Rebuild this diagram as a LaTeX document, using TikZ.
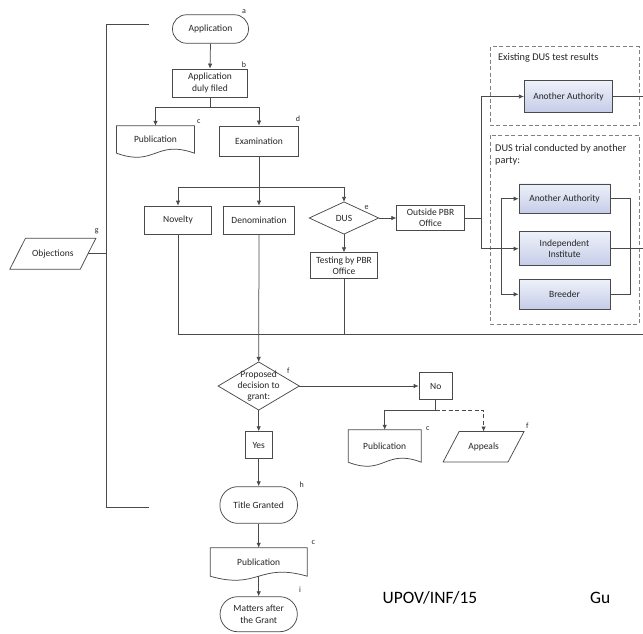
\documentclass[tikz,border=0pt]{standalone}
\usepackage{fontspec}
\setmainfont{Carlito}
\usetikzlibrary{arrows.meta,calc}
\definecolor{lc}{HTML}{4A4A4A}
\definecolor{tc}{HTML}{262626}
\definecolor{gc}{HTML}{808080}
\definecolor{btop}{HTML}{EEF1FA}
\definecolor{bbot}{HTML}{C5CCE7}
\newcommand{\nf}{\fontsize{9.5}{11.3}\selectfont}
\newcommand{\tf}{\fontsize{10.3}{11.7}\selectfont}
\newcommand{\docoutline}[1]{\draw[ln] (#1.south west) -- (#1.north west) -- (#1.north east) -- (#1.south east) .. controls ([yshift=14pt]#1.south) and ([yshift=-14pt]#1.south) .. (#1.south west);}
\newcommand{\paraoutline}[2]{\draw[ln] ([xshift=#2]#1.north west) -- ([xshift=#2]#1.north east) -- ([xshift=-#2]#1.south east) -- ([xshift=-#2]#1.south west) -- cycle;}
\newcommand{\diaoutline}[1]{\draw[ln] (#1.north) -- (#1.east) -- (#1.south) -- (#1.west) -- cycle;}
\tikzset{
  ln/.style={draw=lc, line width=0.75pt},
  arr/.style={ln, -{Latex[length=5pt,width=4.5pt]}},
  box/.style={draw=lc, line width=0.75pt, fill=white, align=center, inner sep=0pt, font=\nf, text=tc},
  termbox/.style={box, rounded corners=#1},
  bluebox/.style={box, top color=btop, bottom color=bbot, minimum width=91pt},
  plain/.style={align=center, inner sep=0pt, font=\nf, text=tc},
  lab/.style={inner sep=0pt, font=\fontsize{8}{9}\selectfont, text=tc},
  grp/.style={draw=gc, line width=0.75pt, dash pattern=on 4pt off 2.5pt},
  gtitle/.style={anchor=west, inner sep=0pt, font=\tf, text=tc, align=left},
}
\begin{document}
\begin{tikzpicture}[x=1pt, y=-1pt]
\useasboundingbox (0,0) rectangle (643,633);

% ---------- dashed groups ----------
\draw[grp] (490.7,46.7) rectangle (639,125.7);
\draw[grp] (490.7,135) rectangle (639,324);
\node[gtitle] (t1) at (498,57.7) {Existing DUS test results};
\node[gtitle] (t2) at (495,155) {DUS trial conducted by another\\party:};

% ---------- nodes ----------
\node[termbox=14pt, minimum width=76pt, minimum height=28.5pt] (apl) at (210.5,29) {Application};
\node[box, minimum width=75pt, minimum height=28pt] (b) at (210,83) {Application\\duly filed};
\node[plain, minimum width=77.6pt, minimum height=27pt] (pub1) at (155.5,139.5) {Publication};
\node[box, minimum width=78.3pt, minimum height=30.7pt] (exam) at (259,141.3) {Examination};
\node[box, minimum width=67.4pt, minimum height=28.3pt] (nov) at (178,220.2) {Novelty};
\node[box, minimum width=70.6pt, minimum height=28.3pt] (den) at (259,220.2) {Denomination};
\node[plain, minimum width=69pt, minimum height=31.7pt] (dus) at (344,218) {DUS};
\node[box, minimum width=67.6pt, minimum height=25.7pt] (out) at (430.5,218) {Outside PBR\\Office};
\node[box, minimum width=67.7pt, minimum height=25.6pt] (test) at (344,265.5) {Testing by PBR\\Office};
\node[bluebox, minimum width=88.4pt, minimum height=31.6pt] (aa1) at (568.5,96.5) {Another Authority};
\node[bluebox, minimum height=29.5pt] (aa2) at (564.5,198.7) {Another Authority};
\node[bluebox, minimum height=34pt] (ind) at (564.5,248.7) {Independent\\Institute};
\node[bluebox, minimum height=30pt] (br) at (564.5,294.3) {Breeder};
\node[plain, minimum width=70pt, minimum height=30.7pt] (obj) at (52.85,253.7) {Objections};
\node[plain, minimum width=80.7pt, minimum height=47.7pt] (pd) at (258.7,386) {Proposed\\decision to\\grant:};
\node[box, minimum width=33.3pt, minimum height=27.6pt] (no) at (435.7,386) {No};
\node[plain, minimum width=72.7pt, minimum height=32pt] (pub2) at (384.7,446) {Publication};
\node[plain, minimum width=64.5pt, minimum height=30pt] (appeals) at (483.6,446.7) {Appeals};
\node[box, minimum width=26.7pt, minimum height=26.7pt] (yes) at (258.7,445) {Yes};
\node[termbox=18pt, minimum width=77.6pt, minimum height=36.7pt] (tg) at (258.7,505) {Title Granted};
\node[plain, minimum width=96.7pt, minimum height=28pt] (pub3) at (258.7,562) {Publication};
\node[termbox=17.5pt, minimum width=77.3pt, minimum height=35pt] (mat) at (258.7,614.2) {Matters after\\the Grant};

% ---------- custom outlines ----------
\docoutline{pub1}
\docoutline{pub2}
\docoutline{pub3}
\diaoutline{dus}
\diaoutline{pd}
\paraoutline{obj}{7.85pt}
\paraoutline{appeals}{8pt}

% ---------- letter labels ----------
\node[lab] (la) at (244,12) {a};
\node[lab] (lb) at (244,65) {b};
\node[lab] (lc1) at (198.7,122) {c};
\node[lab] (ld) at (298,119) {d};
\node[lab] (le) at (366.7,207.3) {e};
\node[lab] (lf1) at (288.3,370.7) {f};
\node[lab] (lc2) at (427.7,429) {c};
\node[lab] (lf2) at (527.3,426) {f};
\node[lab] (lg) at (96.7,231.7) {g};
\node[lab] (lh) at (301.7,485) {h};
\node[lab] (lc3) at (313.3,542.7) {c};
\node[lab] (li) at (300,590) {i};

% ---------- footer text ----------
\node[anchor=base, inner sep=0pt, font=\fontsize{17.4}{20}\selectfont, text=black] (upov) at (430,603) {UPOV/INF/15};
\node[anchor=base west, inner sep=0pt, font=\fontsize{17.4}{20}\selectfont, text=black] (gu) at (590,603) {Gu};

% ---------- coordinates ----------
\coordinate (j1) at (210,107.3);
\coordinate (j2) at (259,187.7);
\coordinate (j3) at (481,218);
\coordinate (j4) at (501,248.7);
\coordinate (j5) at (630.5,248.7);
\coordinate (j6) at (643,334);
\coordinate (j7) at (435.7,410);
\coordinate (e1) at (643,96.5);
\coordinate (e2) at (643,248.7);
\coordinate (g1) at (149,24);
\coordinate (g2) at (106,24);
\coordinate (g3) at (106,507);
\coordinate (g4) at (149,507);

% ---------- connectors ----------
\draw[arr] (apl.south) -- (b.north);
\draw[ln] (b.south) -- (j1);
\draw[arr] (j1) -| (pub1.north);
\draw[arr] (j1) -| (exam.north);
\draw[ln] (exam.south) -- (j2);
\draw[arr] (j2) -| (nov.north);
\draw[arr] (j2) -- (den.north);
\draw[arr] (j2) -| (dus.north);
\draw[arr] (dus.east) -- (out.west);
\draw[arr] (dus.south) -- (test.north);
\draw[ln] (out.east) -- (j3);
\draw[arr] (j3) |- (aa1.west);
\draw[arr] (j3) |- (ind.west);
\draw[arr] (j4) |- (aa2.west);
\draw[arr] (j4) |- (br.west);
\draw[ln] (aa2.east) -| (j5) |- (br.east);
\draw[ln] (aa1.east) -- (e1);
\draw[ln] (ind.east) -- (e2);
\draw[ln] (nov.south) |- (j6);
\draw[ln] (test.south) -- (test.south |- j6);
\draw[arr] (den.south) -- (pd.north);
\draw[arr] (pd.east) -- (no.west);
\draw[ln] (no.south) -- (j7);
\draw[arr] (j7) -| (pub2.north);
\draw[arr, dash pattern=on 4pt off 2.5pt] (j7) -| (appeals.north);
\draw[arr] (pd.south) -- (yes.north);
\draw[arr] (yes.south) -- (tg.north);
\draw[arr] (tg.south) -- (pub3.north);
\draw[arr] (pub3.south) -- (mat.north);
\draw[ln] (g1) -- (g2) -- (g3) -- (g4);
\draw[ln] (obj.east) -- (obj.east -| g2);
\end{tikzpicture}
\end{document}
